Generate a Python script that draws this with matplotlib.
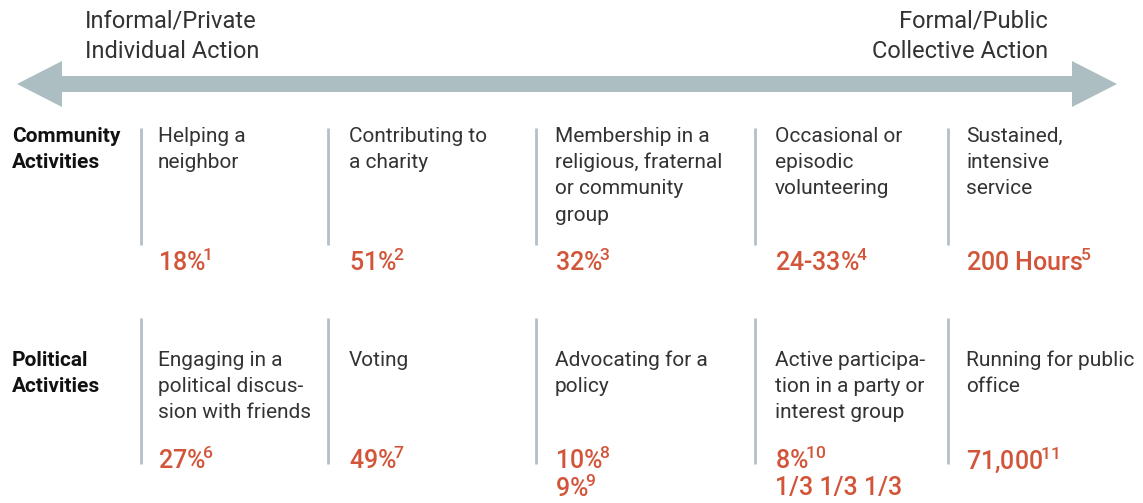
import matplotlib.pyplot as plt
from matplotlib.patches import Polygon

plt.rcParams['font.family'] = ['Roboto', 'DejaVu Sans']
plt.rcParams['mathtext.fontset'] = 'custom'
plt.rcParams['mathtext.rm'] = 'Roboto:medium'
plt.rcParams['mathtext.it'] = 'Roboto'
plt.rcParams['mathtext.bf'] = 'Roboto:bold'

# data
left_label = ["Informal/Private", "Individual Action"]
right_label = ["Formal/Public", "Collective Action"]
row_labels = [["Community", "Activities"], ["Political", "Activities"]]

community_items = [
    ["Helping a", "neighbor"],
    ["Contributing to", "a charity"],
    ["Membership in a", "religious, fraternal", "or community", "group"],
    ["Occasional or", "episodic", "volunteering"],
    ["Sustained,", "intensive", "service"],
]
community_stats = [["18%", "1"], ["51%", "2"], ["32%", "3"], ["24-33%", "4"], ["200 Hours", "5"]]

political_items = [
    ["Engaging in a", "political discus-", "sion with friends"],
    ["Voting"],
    ["Advocating for a", "policy"],
    ["Active participa-", "tion in a party or", "interest group"],
    ["Running for public", "office"],
]
political_stats = [
    [["27%", "6"]],
    [["49%", "7"]],
    [["10%", "8"], ["9%", "9"]],
    [["8%", "10"], ["1/3 1/3 1/3", ""]],
    [["71,000", "11"]],
]

ARROW = "#adbec3"
SEP = "#b3c1c6"
ORANGE = "#d2553a"
TEXT = "#333333"

col_x = [158, 349, 555, 775, 966]
sep_x = [141, 328, 536, 755, 948]

fig = plt.figure(figsize=(11.43, 5.03), dpi=100)
ax = fig.add_axes([0, 0, 1, 1])
ax.set_xlim(0, 1143)
ax.set_ylim(503, 0)
ax.axis('off')

# double arrow
yc, sh, hh = 84, 8, 23
pts = [(17, yc), (62, yc - hh), (62, yc - sh), (1072, yc - sh), (1072, yc - hh),
       (1117, yc), (1072, yc + hh), (1072, yc + sh), (62, yc + sh), (62, yc + hh)]
ax.add_patch(Polygon(pts, closed=True, color=ARROW, lw=0))

fs = 15
lh = 26.5
for i, s in enumerate(left_label):
    ax.text(85, 21 + i * 30, s, fontsize=17, color=TEXT, ha='left', va='center')
for i, s in enumerate(right_label):
    ax.text(1048, 21 + i * 30, s, fontsize=17, color=TEXT, ha='right', va='center')

row_top = [136, 360]
for r, lab in enumerate(row_labels):
    for i, s in enumerate(lab):
        ax.text(12, row_top[r] + i * lh, s, fontsize=fs, color='#111111',
                fontweight='bold', ha='left', va='center')

# separators
for x in sep_x:
    ax.plot([x, x], [128, 245], color=SEP, lw=2, solid_capstyle='butt')
    ax.plot([x, x], [318, 464], color=SEP, lw=2, solid_capstyle='butt')


def stat_text(val, sup):
    if sup:
        return val + r"$^{\!\mathrm{" + sup + "}}$"
    return val


for c, lines in enumerate(community_items):
    for i, s in enumerate(lines):
        ax.text(col_x[c], row_top[0] + i * lh, s, fontsize=fs, color=TEXT,
                ha='left', va='center')
    val, sup = community_stats[c]
    ax.text(col_x[c], 262, stat_text(val, sup), fontsize=18, color=ORANGE,
            fontweight='medium', ha='left', va='center')

for c, lines in enumerate(political_items):
    for i, s in enumerate(lines):
        ax.text(col_x[c], row_top[1] + i * lh, s, fontsize=fs, color=TEXT,
                ha='left', va='center')
    for j, (val, sup) in enumerate(political_stats[c]):
        ax.text(col_x[c], 460 + j * 28, stat_text(val, sup), fontsize=18,
                color=ORANGE, fontweight='medium', ha='left', va='center')

fig.savefig("out.png", dpi=100, facecolor='white')
